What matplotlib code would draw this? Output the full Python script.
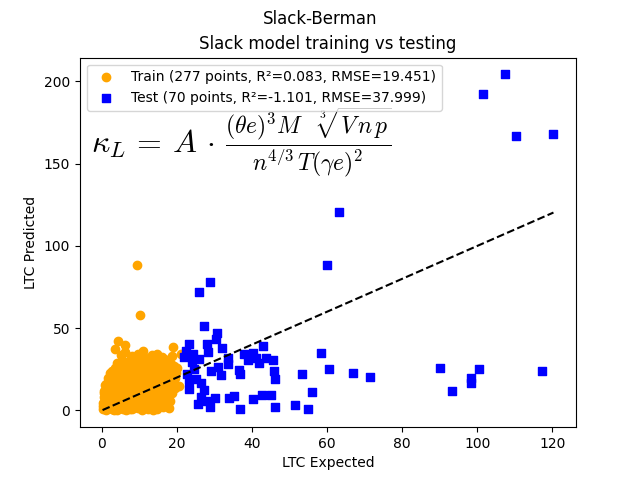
import numpy as np
import matplotlib
matplotlib.use('Agg')
import matplotlib.pyplot as plt
from matplotlib.ticker import MultipleLocator

plt.rcParams['mathtext.fontset'] = 'cm'

# training set (expected, predicted)
train_x = [9.4, 10.2, 4.2, 6.3, 3.6, 11.0, 19.0, 21.0, 16.5, 14.2, 8.5, 12.5, 7.0, 18.5, 20.0, 19.5, 20.5, 18.2, 16.4, 13.7,
           0.4, 1.1, 1.9, 2.6, 3.3, 4.1, 4.9, 5.6, 6.4, 7.2, 8.1, 8.9, 9.7, 10.6, 11.5, 12.4, 14.8, 15.6, 17.1, 0.8,
           0.6, 1.4, 2.2, 3.0, 3.8, 4.5, 5.3, 6.1, 6.9, 7.6, 8.4, 9.2, 10.0, 10.9, 11.8, 13.0, 14.1, 15.2, 16.8, 17.5,
           0.5, 1.3, 2.0, 2.9, 3.7, 4.6, 5.4, 6.2, 7.0, 7.9, 8.7, 9.6, 10.4, 11.3, 12.2, 13.4, 14.6, 15.9, 17.0, 18.6,
           0.7, 1.5, 2.3, 3.1, 3.9, 4.7, 5.5, 6.4, 7.2, 8.0, 8.8, 9.7, 10.5, 11.4, 12.3, 13.2, 14.3, 15.5, 16.7, 18.0,
           0.9, 1.7, 2.5, 3.4, 4.2, 5.0, 5.8, 6.7, 7.5, 8.3, 9.1, 10.0, 10.8, 11.7, 12.6, 13.6, 14.7, 15.8, 17.2, 19.1,
           1.6, 2.4, 3.2, 4.0, 4.8, 5.7, 6.5, 7.3, 8.2, 9.0, 9.9, 10.7, 11.6, 12.5, 13.5, 14.5, 15.6, 16.8, 18.0, 19.8,
           2.8, 3.5, 4.4, 5.2, 6.0, 6.8, 7.7, 8.6, 9.4, 10.3, 11.1, 12.0, 13.0, 14.0, 15.0, 16.1, 17.3, 18.4, 19.3, 4.0,
           5.5, 6.6, 7.8, 9.0, 10.4, 11.6, 12.9, 13.5, 15.2, 16.0, 17.6, 18.8, 9.6, 8.0, 10.8, 12.0, 14.8, 5.0, 6.2, 17.0,
           0.3, 1.0, 1.8, 2.7, 3.5, 4.4, 5.2, 6.0, 6.9, 7.8, 8.6, 9.5, 10.3, 11.2, 12.1, 13.1, 14.2, 15.4, 16.3, 17.8,
           0.6, 1.4, 2.1, 3.0, 3.9, 4.8, 5.6, 6.5, 7.4, 8.2, 9.1, 10.1, 11.0, 11.9, 12.8, 13.9, 15.1, 16.2, 17.4, 18.9,
           1.2, 2.0, 2.9, 3.7, 4.5, 5.4, 6.3, 7.1, 8.0, 8.9, 9.8, 10.6, 11.5, 12.4, 13.3, 14.4, 15.7, 16.6, 18.3, 19.6,
           2.2, 3.0, 3.8, 4.6, 5.5, 6.4, 7.2, 8.1, 9.0, 9.8, 10.7, 11.5, 12.4, 13.3, 14.2, 15.3, 16.5, 17.7, 18.7, 7.6,
           0.2, 0.8, 1.5, 2.4, 3.2, 4.0, 5.0, 5.9, 6.7, 7.5, 8.4, 9.3, 10.2, 11.1, 12.0, 13.0, 14.0]
train_y = [88.5, 58.0, 42.5, 40.0, 37.5, 36.0, 38.5, 34.5, 31.0, 30.5, 30.0, 32.0, 29.5, 28.0, 26.0, 20.0, 15.0, 6.0, 2.0, 0.5,
           1.0, 0.2, 2.1, 0.8, 1.5, 0.3, 2.4, 1.1, 0.0, 1.9, 0.6, 2.2, 1.3, 0.4, 2.7, 1.0, 0.8, 2.5, 3.0, 3.4,
           5.2, 4.1, 6.0, 3.6, 5.5, 4.4, 6.3, 3.9, 5.0, 4.2, 6.1, 3.5, 5.4, 4.6, 6.6, 3.2, 4.8, 5.7, 6.4, 4.0,
           8.0, 9.6, 7.4, 10.2, 8.6, 7.1, 9.9, 8.3, 10.5, 7.7, 9.2, 8.0, 10.8, 7.5, 9.4, 8.8, 7.2, 9.0, 8.1, 10.3,
           12.0, 11.2, 13.5, 12.4, 11.0, 14.1, 12.7, 11.5, 13.8, 12.2, 14.4, 11.3, 13.0, 12.6, 14.7, 11.8, 13.3, 12.1, 14.0, 12.9,
           15.5, 17.0, 15.0, 16.8, 18.2, 15.4, 17.6, 16.1, 18.5, 15.8, 17.2, 16.4, 18.8, 15.2, 17.4, 16.6, 18.0, 15.6, 17.8, 16.2,
           19.5, 21.0, 20.2, 19.1, 22.0, 20.6, 19.8, 21.8, 20.0, 22.4, 19.4, 21.2, 20.8, 22.6, 19.6, 21.5, 20.3, 22.1, 19.9, 22.8,
           24.0, 25.8, 23.4, 26.5, 24.6, 23.2, 27.0, 25.0, 23.8, 26.2, 24.4, 27.4, 23.6, 25.6, 26.8, 24.2, 25.2, 23.0, 27.2, 28.6,
           30.5, 28.2, 31.8, 29.0, 30.0, 28.5, 29.6, 33.5, 29.2, 32.5, 30.4, 33.0, 34.5, 33.0, 35.0, 31.0, 34.0, 33.8, 35.5, 28.8,
           2.6, 6.8, 3.9, 5.6, 7.6, 2.8, 5.8, 7.9, 3.3, 6.4, 2.0, 6.9, 3.8, 7.3, 5.1, 6.0, 2.3, 3.7, 4.5, 1.5,
           10.4, 13.0, 9.0, 14.6, 10.9, 12.9, 8.6, 13.2, 9.5, 11.0, 12.6, 9.8, 14.0, 10.2, 11.7, 13.6, 10.6, 13.9, 11.4, 14.3,
           16.0, 18.4, 17.3, 15.7, 19.4, 16.9, 18.9, 16.7, 19.1, 17.8, 15.3, 19.7, 16.3, 18.6, 15.9, 19.0, 17.1, 16.4, 18.2, 13.8,
           22.5, 23.0, 21.4, 24.7, 21.8, 25.4, 22.9, 24.0, 21.1, 25.1, 23.3, 21.9, 24.8, 22.2, 23.9, 24.5, 21.0, 23.5, 25.6, 27.8,
           4.8, 7.2, 1.8, 8.9, 0.5, 9.3, 1.4, 10.0, 6.6, 0.9, 4.5, 10.6, 8.2, 5.7, 3.4, 9.7, 5.5]

# test set (expected, predicted)
test_x = [107.4, 101.5, 110.3, 120.3, 90.2, 93.4, 98.3, 98.3, 100.4, 117.3,
          63.1, 60.1, 58.5, 60.4, 53.4, 66.8, 71.4, 56.1, 51.5, 55.0,
          28.7, 25.8, 27.1, 30.6, 30.3, 23.1, 27.9, 28.2, 22.0, 24.2,
          26.0, 23.9, 33.6, 33.6, 30.9, 31.7, 36.5, 36.8, 37.9, 38.9,
          40.3, 41.9, 43.0, 43.8, 45.6, 45.9, 46.2, 23.1, 25.0, 26.3,
          23.1, 27.1, 25.5, 27.9, 28.7, 30.1, 33.8, 35.2, 36.8, 40.3,
          42.7, 45.1, 46.2, 22.5, 24.5, 22.8, 26.5, 29.0, 32.0, 41.0]
test_y = [204.3, 192.6, 166.7, 167.9, 25.9, 11.7, 19.8, 16.7, 25.3, 24.1,
          120.4, 88.3, 35.2, 25.3, 22.2, 22.8, 20.4, 11.1, 3.1, 0.6,
          77.8, 72.2, 51.2, 46.9, 43.2, 40.1, 40.1, 35.8, 32.7, 34.0,
          31.5, 29.6, 32.1, 28.4, 26.5, 21.6, 24.7, 22.2, 34.0, 30.9,
          34.6, 29.0, 38.9, 32.1, 30.9, 24.1, 19.1, 18.5, 19.1, 16.7,
          13.0, 12.3, 3.7, 5.6, 1.9, 7.4, 7.4, 8.6, 0.6, 6.8,
          9.3, 9.3, 1.9, 36.4, 25.0, 22.0, 8.0, 24.0, 38.0, 32.0]

train_label = 'Train (277 points, R²=0.083, RMSE=19.451)'
test_label = 'Test (70 points, R²=-1.101, RMSE=37.999)'

fig, ax = plt.subplots(figsize=(6.4, 4.8), dpi=100)
ax.scatter(train_x, train_y, color='orange', marker='o', label=train_label)
ax.scatter(test_x, test_y, color='blue', marker='s', label=test_label)

lo = min(min(train_x), min(test_x))
hi = max(max(train_x), max(test_x))
ax.plot([lo, hi], [lo, hi], 'k--')

# formula: left side large, fraction in display style next to it
ax.text(0.022, 0.742, r'$\kappa_L \,=\, A\, \cdot$',
        transform=ax.transAxes, fontsize=23, va='baseline')
ax.text(0.292, 0.77, r'$\dfrac{(\theta e)^3 M \quad\sqrt[3]{V\, n\, p}}{n^{4/3}\, T (\gamma e)^2}$',
        transform=ax.transAxes, fontsize=17, va='center')

ax.yaxis.set_major_locator(MultipleLocator(50))
ax.set_xlabel('LTC Expected')
ax.set_ylabel('LTC Predicted')
ax.set_title('Slack model training vs testing')
fig.suptitle('Slack-Berman')
ax.legend(loc='upper left')

plt.savefig('out.png')
